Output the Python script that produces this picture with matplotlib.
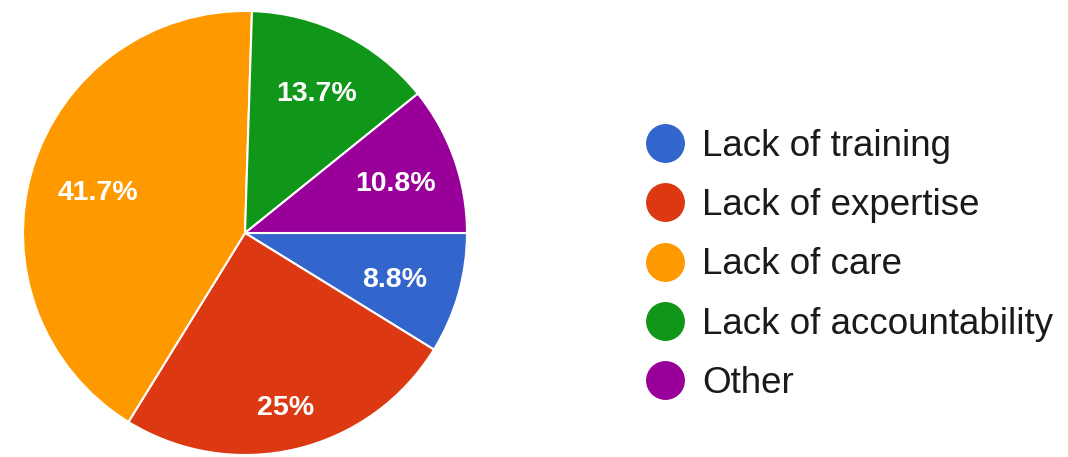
import matplotlib
matplotlib.use("Agg")
import matplotlib.pyplot as plt
from matplotlib.lines import Line2D
import numpy as np

plt.rcParams['font.family'] = ['Liberation Sans', 'DejaVu Sans']

labels = ["Lack of training", "Lack of expertise", "Lack of care",
          "Lack of accountability", "Other"]
shares = [8.8, 25.0, 41.7, 13.7, 10.8]
pct_text = ["8.8%", "25%", "41.7%", "13.7%", "10.8%"]
colors = ["#3366cc", "#dc3912", "#ff9900", "#109618", "#990099"]

# label distance from centre (fraction of radius), Google-chart-like placement
label_dist = [0.70, 0.79, 0.69, 0.72, 0.72]

fig = plt.figure(figsize=(10.68, 4.57), dpi=100)
ax = fig.add_axes([23 / 1068, 2 / 457, 444 / 1068, 444 / 457])

wedges, _ = ax.pie(shares, colors=colors, startangle=0, counterclock=False,
                   radius=1.0,
                   wedgeprops=dict(edgecolor="white", linewidth=1.5))

for w, txt, d in zip(wedges, pct_text, label_dist):
    mid = np.deg2rad((w.theta1 + w.theta2) / 2)
    ax.text(d * np.cos(mid), d * np.sin(mid) - 0.02, txt, ha="center", va="center",
            color="white", fontsize=20.5, fontweight="bold")

ax.set_xlim(-1, 1)
ax.set_ylim(-1, 1)
ax.set_aspect("equal")
ax.axis("off")

handles = [Line2D([], [], linestyle="none", marker="o", markersize=27,
                  markerfacecolor=c, markeredgecolor=c) for c in colors]
fig.legend(handles=handles, labels=labels, loc="center left",
           bbox_to_anchor=(647 / 1068, 1 - 265 / 457), frameon=False,
           fontsize=26.5, handlelength=1.0, handletextpad=0.5,
           labelspacing=0.66, borderpad=0, borderaxespad=0,
           labelcolor="#1a1a1a")

fig.savefig("out.png", dpi=100)
